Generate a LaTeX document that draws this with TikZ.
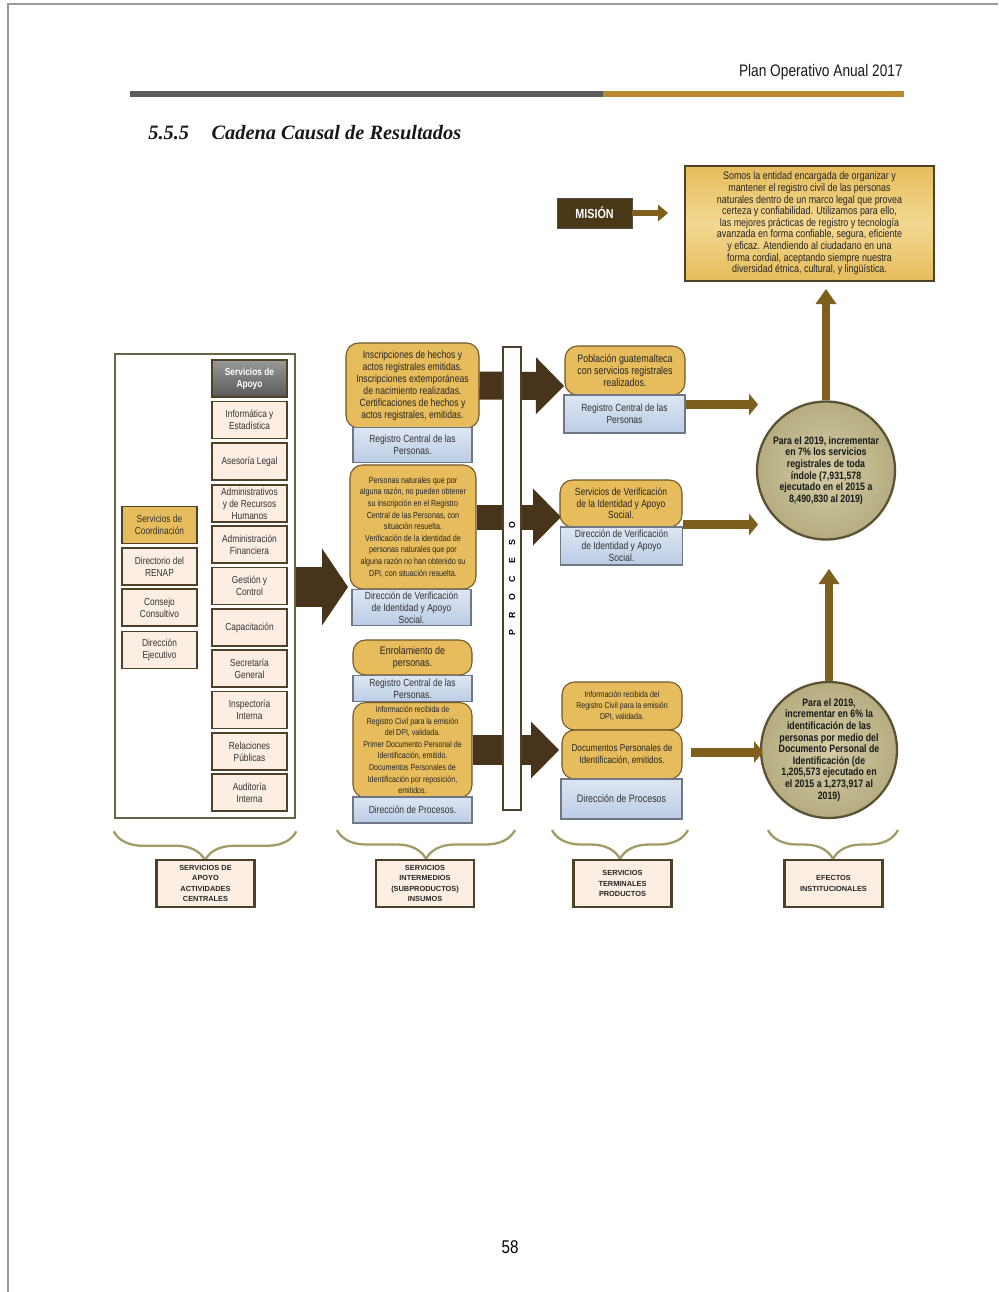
\documentclass[tikz,border=0pt]{standalone}
\usepackage{fontspec}
\setmainfont{Liberation Sans}
\newfontfamily\narrowfont[FakeStretch=0.82]{Liberation Sans}
\newfontfamily\titlefont{Liberation Serif}
\usepackage{xcolor}
\usetikzlibrary{arrows.meta, positioning, calc, decorations.pathreplacing}

\definecolor{darkarr}{HTML}{47341A}
\definecolor{brownarr}{HTML}{7E5F1E}
\definecolor{goldfill}{HTML}{E6BC5C}
\definecolor{goldedge}{HTML}{6E5628}
\definecolor{goldlight}{HTML}{F3D891}
\definecolor{peach}{HTML}{FCEEE3}
\definecolor{boxedge}{HTML}{4E4128}
\definecolor{bluetop}{HTML}{DDE6F3}
\definecolor{bluebot}{HTML}{BCCCE5}
\definecolor{blueedge}{HTML}{6F7684}
\definecolor{olivein}{HTML}{D3CCA6}
\definecolor{oliveout}{HTML}{B5AD80}
\definecolor{oliveedge}{HTML}{5A5232}
\definecolor{bracecol}{HTML}{A39B66}
\definecolor{grayband}{HTML}{5C5C5C}
\definecolor{goldband}{HTML}{B98A30}
\definecolor{misfill}{HTML}{4A3716}
\definecolor{lboxedge}{HTML}{6A6245}
\definecolor{pageedge}{HTML}{9A9A9A}

\tikzset{
  apoyo/.style={draw=boxedge, line width=0.9pt, fill=peach, minimum width=1.5cm, minimum height=0.74cm,
    inner sep=0.5pt, align=center, text=black!80, font=\narrowfont\fontsize{5.8}{6.8}\selectfont},
  jefe/.style={apoyo, top color=black!40, bottom color=black!65, text=white, font=\narrowfont\bfseries\fontsize{5.8}{6.8}\selectfont},
  coord/.style={apoyo, fill=goldfill},
  producto/.style={draw=goldedge, line width=0.6pt, fill=goldfill, rounded corners=0.25cm, inner sep=1pt,
    align=center, text=black!85},
  unidad/.style={draw=blueedge, line width=0.6pt, top color=bluetop, bottom color=bluebot, inner sep=1pt,
    align=center, text=black!80, font=\narrowfont\fontsize{5.9}{6.8}\selectfont},
  meta/.style={circle, draw=oliveedge, line width=1.3pt, inner color=olivein, outer color=oliveout,
    minimum size=2.76cm, inner sep=0pt},
  metatxt/.style={align=center, font=\narrowfont\bfseries\fontsize{6.1}{6.6}\selectfont, text=black!90},
  etapa/.style={draw=boxedge, line width=1.3pt, fill=peach, minimum width=1.96cm, minimum height=0.94cm,
    inner sep=0pt, align=center, font=\bfseries\fontsize{4.2}{5.8}\selectfont, text=black!85},
  darkarrow/.style={draw=darkarr, line width=0.56cm, -{Triangle[line width=0pt, length=0.56cm, width=1.14cm]}},
  brownarrow/.style={draw=brownarr, line width=0.18cm, -{Triangle[line width=0pt, length=0.18cm, width=0.44cm]}},
  llave/.style={draw=bracecol, line width=1.3pt, decorate, decoration={brace, mirror, amplitude=0.58cm}},
  procletra/.style={rotate=90, inner sep=0pt, font=\bfseries\fontsize{5}{6}\selectfont},
}

\begin{document}
\begin{tikzpicture}[x=0.02cm, y=-0.02cm]
  \useasboundingbox (0,0) rectangle (998,1292);
  \fill[white] (0,0) rectangle (998,1292);
  \draw[pageedge, line width=0.8pt] (8,1292) -- (8,4) -- (998,4);

  % encabezado
  \node[anchor=east, inner sep=0pt, text=black!90, font=\narrowfont\fontsize{9.5}{11}\selectfont] (poa) at (903,72) {Plan Operativo Anual 2017};
  \fill[grayband] (130,91) rectangle (603,97);
  \fill[goldband] (603,91) rectangle (904,97);
  \node[anchor=west, inner sep=0pt, text=black!90, font=\titlefont\bfseries\itshape\fontsize{11.6}{14}\selectfont] (tit) at (148,133)
    {5.5.5\hspace{1.1em}Cadena Causal de Resultados};

  % mision
  \node[fill=misfill, draw=black!70, minimum width=1.5cm, minimum height=0.6cm, text=white,
    font=\narrowfont\bfseries\fontsize{7.5}{9}\selectfont] (mis) at (594.5,213) {MISIÓN};
  \node[draw=boxedge, line width=1.3pt, top color=goldfill, bottom color=goldfill, middle color=goldlight,
    minimum width=4.98cm, minimum height=2.22cm, align=center, text=black!85,
    font=\narrowfont\fontsize{6.2}{6.6}\selectfont] (mtx) at (809.5,223.5)
    {Somos la entidad encargada de organizar y\\mantener el registro civil de las personas\\
     naturales dentro de un marco legal que provea\\certeza y confiabilidad. Utilizamos para ello,\\
     las mejores prácticas de registro y tecnología\\avanzada en forma confiable, segura, eficiente\\
     y eficaz. Atendiendo al ciudadano en una\\forma cordial, aceptando siempre nuestra\\
     diversidad étnica, cultural, y lingüística.};
  \coordinate (mtip) at (668,213);
  \draw[brownarr, line width=0.12cm, -{Triangle[line width=0pt, length=0.2cm, width=0.34cm]}] (mis.east) -- (mtip);

  % efectos
  \node[meta] (c1) at (826,470.5) {};
  \node[metatxt] (c1t) at (c1.center) {Para el 2019, incrementar\\en 7\% los servicios\\registrales de toda\\
    índole (7,931,578\\ejecutado en el 2015 a\\8,490,830 al 2019)};
  \node[meta, minimum size=2.72cm] (c2) at (829,750) {};
  \node[metatxt] (c2t) at (c2.center) {Para el 2019,\\incrementar en 6\% la\\identificación de las\\
    personas por medio del\\Documento Personal de\\Identificación (de\\1,205,573 ejecutado en\\
    el 2015 a 1,273,917 al\\2019)};
  \coordinate (u1) at (826,289);
  \coordinate (u2) at (829,569);
  \draw[brownarr, line width=0.15cm, -{Triangle[line width=0pt, length=0.3cm, width=0.42cm]}] (c1.north) -- (u1);
  \draw[brownarr, line width=0.15cm, -{Triangle[line width=0pt, length=0.3cm, width=0.42cm]}] (c2.north) -- (u2);

  % servicios de apoyo
  \node[draw=lboxedge, line width=1.5pt, fill=white, minimum width=3.6cm, minimum height=9.28cm] (lbox) at (205,586) {};
  \node[jefe] (sa0) at (249.5,378.5) {Servicios de\\Apoyo};
  \node[apoyo] (sa1) at (249.5,420) {Informática y\\Estadística};
  \node[apoyo] (sa2) at (249.5,461.5) {Asesoría Legal};
  \node[apoyo] (sa3) at (249.5,503.5) {Administrativos\\y de Recursos\\Humanos};
  \node[apoyo] (sa4) at (249.5,544.5) {Administración\\Financiera};
  \node[apoyo] (sa5) at (249.5,586) {Gestión y\\Control};
  \node[apoyo] (sa6) at (249.5,627.5) {Capacitación};
  \node[apoyo] (sa7) at (249.5,668.5) {Secretaría\\General};
  \node[apoyo] (sa8) at (249.5,710) {Inspectoría\\Interna};
  \node[apoyo] (sa9) at (249.5,751.5) {Relaciones\\Públicas};
  \node[apoyo] (sa10) at (249.5,792.5) {Auditoría\\Interna};
  \node[coord] (sc0) at (159.5,525) {Servicios de\\Coordinación};
  \node[apoyo] (sc1) at (159.5,566.5) {Directorio del\\RENAP};
  \node[apoyo] (sc2) at (159.5,607.5) {Consejo\\Consultivo};
  \node[apoyo] (sc3) at (159.5,650) {Dirección\\Ejecutivo};
  \coordinate (tL) at (348,587);
  \draw[darkarr, line width=0.8cm, -{Triangle[line width=0pt, length=0.52cm, width=1.54cm]}] (lbox.east |- tL) -- (tL);

  % servicios intermedios
  \node[producto, minimum width=2.66cm, minimum height=1.7cm, font=\narrowfont\fontsize{6}{6.8}\selectfont] (g1) at (412.5,385.5)
    {Inscripciones de hechos y\\actos registrales emitidas.\\Inscripciones extemporáneas\\de nacimiento realizadas.\\
     Certificaciones de hechos y\\actos registrales, emitidas.};
  \node[unidad, minimum width=2.38cm, minimum height=0.7cm] (b1) at (412.5,445) {Registro Central de las\\Personas.};
  \node[producto, minimum width=2.52cm, minimum height=2.48cm, font=\narrowfont\fontsize{5}{6.6}\selectfont] (g2) at (413,527)
    {Personas naturales que por\\alguna razón, no pueden obtener\\su inscripción en el Registro\\
     Central de las Personas, con\\situación resuelta.\\Verificación de la identidad de\\
     personas naturales que por\\alguna razón no han obtenido su\\DPI, con situación resuelta.};
  \node[unidad, minimum width=2.38cm, minimum height=0.72cm] (b2) at (411.5,607.5) {Dirección de Verificación\\de Identidad y Apoyo\\Social.};
  \node[producto, minimum width=2.38cm, minimum height=0.7cm, font=\narrowfont\fontsize{6.2}{6.8}\selectfont] (g3) at (412.5,657.5)
    {Enrolamiento de\\personas.};
  \node[unidad, minimum width=2.38cm, minimum height=0.52cm] (b3) at (412.5,688.5) {Registro Central de las\\Personas.};
  \node[producto, minimum width=2.38cm, minimum height=1.9cm, font=\narrowfont\fontsize{4.9}{6.6}\selectfont] (g4) at (412.5,750)
    {Información recibida de\\Registro Civil para la emisión\\del DPI, validada.\\Primer Documento Personal de\\
     Identificación, emitido.\\Documentos Personales de\\Identificación por reposición,\\emitidos.};
  \node[unidad, minimum width=2.38cm, minimum height=0.52cm] (b4) at (412.5,810) {Dirección de Procesos.};

  % proceso
  \coordinate (tp1) at (564,386);
  \coordinate (tp2) at (561,517);
  \coordinate (tp3) at (559,750);
  \draw[darkarrow] (g1.east) -- (tp1);
  \draw[darkarrow, line width=0.5cm] (g2.east |- tp2) -- (tp2);
  \draw[darkarrow, line width=0.6cm] (g4.east) -- (tp3);
  \node[draw=boxedge, line width=1.2pt, fill=white, minimum width=0.36cm, minimum height=9.26cm, inner sep=0pt] (proc) at (512,578.5) {};
  \foreach \l [count=\i] in {P,R,O,C,E,S,O}
    \node[procletra] (pl\i) at (512,{633-18*(\i-1)}) {\l};

  % servicios terminales
  \node[producto, minimum width=2.4cm, minimum height=0.98cm, font=\narrowfont\fontsize{6.2}{6.6}\selectfont] (r1) at (625,370.5)
    {Población guatemalteca\\con servicios registrales\\realizados.};
  \node[unidad, minimum width=2.42cm, minimum height=0.76cm] (rb1) at (624.5,414) {Registro Central de las\\Personas};
  \node[producto, minimum width=2.44cm, minimum height=0.94cm, font=\narrowfont\fontsize{5.9}{6.6}\selectfont] (r2) at (621,503.5)
    {Servicios de Verificación\\de la Identidad y Apoyo\\Social.};
  \node[unidad, minimum width=2.44cm, minimum height=0.76cm] (rb2) at (621.5,546) {Dirección de Verificación\\de Identidad y Apoyo\\Social.};
  \node[producto, minimum width=2.4cm, minimum height=0.96cm, font=\narrowfont\fontsize{4.9}{6.4}\selectfont] (r3) at (622,706)
    {Información recibida del\\Registro Civil para la emisión\\DPI, validada.};
  \node[producto, minimum width=2.4cm, minimum height=0.98cm, font=\narrowfont\fontsize{5.7}{6.6}\selectfont] (r4) at (622,754.5)
    {Documentos Personales de\\Identificación, emitidos.};
  \node[unidad, minimum width=2.42cm, minimum height=0.8cm, font=\narrowfont\fontsize{6.2}{6.8}\selectfont] (rb3) at (621.5,799) {Dirección de Procesos};

  \coordinate (t1) at (758,404.5);
  \coordinate (t2) at (758,524.5);
  \coordinate (t3) at (763,752);
  \draw[brownarrow] (rb1.east |- t1) -- (t1);
  \draw[brownarrow] (rb2.east |- t2) -- (t2);
  \draw[brownarrow, shorten <=0.16cm] (r4.east |- t3) -- (t3);

  % llaves y etapas
  \draw[llave] ([yshift=-0.24cm]lbox.south west) -- ([yshift=-0.24cm]lbox.south east);
  \draw[llave] (337,830) -- (515,830);
  \draw[llave] (552,830) -- (688,830);
  \draw[llave] (768,830) -- (898,830);
  \node[etapa] (e1) at (205.5,883.5) {SERVICIOS DE\\APOYO\\ACTIVIDADES\\CENTRALES};
  \node[etapa] (e2) at (425,883.5) {SERVICIOS\\INTERMEDIOS\\(SUBPRODUCTOS)\\INSUMOS};
  \node[etapa] (e3) at (622.5,883.5) {SERVICIOS\\TERMINALES\\PRODUCTOS};
  \node[etapa] (e4) at (833.5,883.5) {EFECTOS\\INSTITUCIONALES};

  \node[font=\narrowfont\fontsize{10.5}{12}\selectfont] (pg) at (510,1247) {58};
\end{tikzpicture}
\end{document}
